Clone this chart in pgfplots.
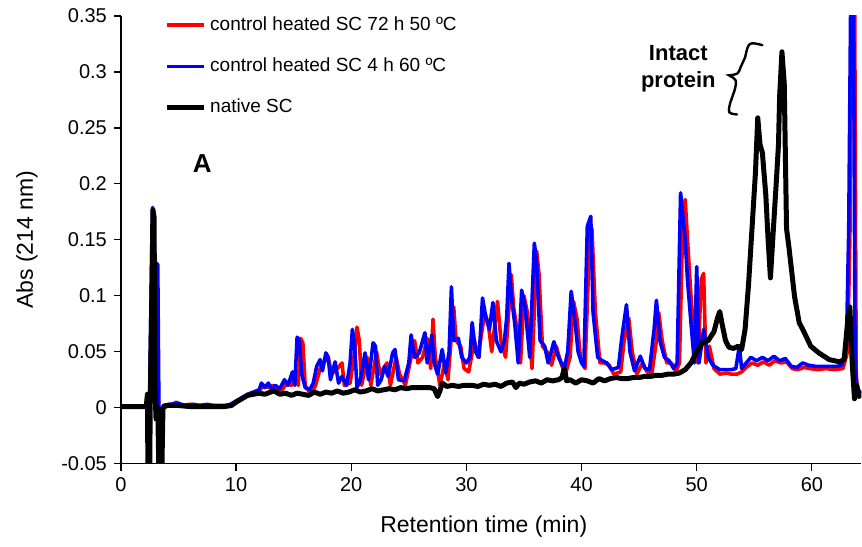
\documentclass[border=0pt]{standalone}
\usepackage{fontspec}
\setmainfont{Liberation Sans}
\usepackage{pgfplots}
\pgfplotsset{compat=1.18}
\begin{document}
\begin{tikzpicture}
\begin{axis}[
    scale only axis,
    width=370.5pt, height=224pt,
    xmin=0, xmax=64.3,
    ymin=-0.05, ymax=0.35,
    axis x line*=bottom, axis y line*=left,
    axis line style={line width=0.6pt},
    xtick={0,10,20,30,40,50,60},
    ytick={-0.05,0,0.05,0.1,0.15,0.2,0.25,0.3,0.35},
    yticklabels={-0.05,0,0.05,0.1,0.15,0.2,0.25,0.3,0.35},
    tick align=outside, major tick length=3.5pt,
    tick style={black, line width=0.6pt},
    /pgf/number format/assume math mode=true,
    tick label style={font=\fontsize{10}{12}\selectfont},
    xlabel={Retention time (min)},
    ylabel={Abs (214 nm)},
    label style={font=\fontsize{11.5}{13}\selectfont},
    xlabel style={at={(axis description cs:0.49,-0.141)}, anchor=center},
    ylabel style={at={(axis description cs:-0.127,0.5)}, anchor=center},
    legend style={at={(axis description cs:0.058,1.008)}, anchor=north west,
        draw=none, fill=none, font=\fontsize{9.5}{11}\selectfont,
        row sep=8.2pt, inner sep=0pt},
    legend cell align=left,
    legend image code/.code={\draw[#1] (0pt,0pt) -- (18.5pt,0pt);},
]
% control heated SC 72 h 50 C
\addplot[red, line width=1.8pt, line join=round] coordinates {
(0,0.001)(2.2,0.001)(2.3,0.008)(2.4,-0.06)(2.5,0.01)(2.7,0.12)(2.8,0.175)(2.9,0.12)(3.2,0.05)(3.35,-0.06)(3.5,-0.01)(3.7,0.002)
(4.5,0.003)(4.8,0.005)(5.2,0.002)(6,0.003)(7,0.002)(8,0.002)(9,0.001)(9.6,0.002)(10,0.005)(10.5,0.008)(11,0.011)(11.5,0.013)
(12,0.015)(12.4,0.02)(12.8,0.018)(13.2,0.02)(13.6,0.015)(14,0.016)(14.4,0.022)(14.8,0.02)(15.1,0.03)(15.4,0.02)(15.6,0.062)
(15.8,0.058)(16,0.02)(16.5,0.012)(16.9,0.02)(17.3,0.035)(17.6,0.04)(18,0.045)(18.3,0.03)(18.8,0.035)(19.2,0.04)(19.4,0.02)
(19.9,0.022)(20.3,0.05)(20.5,0.072)(20.7,0.06)(20.9,0.02)(21.4,0.045)(21.7,0.02)(22.2,0.05)(22.5,0.03)(23.1,0.04)(23.4,0.02)
(23.9,0.045)(24.2,0.03)(24.7,0.02)(25.2,0.045)(25.5,0.06)(25.8,0.04)(26.2,0.045)(26.6,0.062)(26.9,0.035)(27.1,0.079)(27.3,0.045)
(27.7,0.02)(28.1,0.04)(28.4,0.025)(28.9,0.09)(29.1,0.06)(29.5,0.055)(29.8,0.035)(30.2,0.032)(30.7,0.06)(31,0.045)(31.6,0.085)
(31.9,0.075)(32.2,0.05)(32.7,0.095)(33,0.06)(33.4,0.045)(33.9,0.119)(34.1,0.09)(34.4,0.07)(34.7,0.04)(35.0,0.1)(35.3,0.085)
(35.7,0.035)(36.1,0.14)(36.3,0.12)(36.6,0.055)(37,0.05)(37.4,0.038)(37.8,0.055)(38.2,0.04)(38.6,0.03)(39,0.045)(39.3,0.095)
(39.6,0.08)(39.9,0.045)(40.3,0.035)(40.7,0.15)(40.9,0.16)(41.2,0.085)(41.6,0.04)(42,0.04)(42.4,0.038)(42.8,0.03)(43.4,0.032)
(43.7,0.06)(44.1,0.08)(44.4,0.05)(44.8,0.03)(45.3,0.04)(45.7,0.032)(46.1,0.03)(46.5,0.06)(46.7,0.085)(47,0.06)(47.4,0.04)
(47.8,0.04)(48.2,0.032)(48.5,0.04)(48.8,0.17)(49.0,0.186)(49.2,0.15)(49.5,0.1)(49.8,0.06)(50.1,0.04)(50.4,0.115)(50.6,0.12)
(50.8,0.04)(51.1,0.055)(51.5,0.035)(52,0.03)(52.6,0.031)(53,0.03)(53.5,0.03)(53.9,0.032)(54.3,0.036)(54.8,0.04)(55.3,0.038)
(55.8,0.041)(56.3,0.038)(56.8,0.042)(57.3,0.04)(57.8,0.041)(58.3,0.035)(58.8,0.034)(59.3,0.036)(59.8,0.035)(60.5,0.034)
(61.2,0.035)(62,0.034)(62.7,0.035)(63.1,0.05)(63.3,0.15)(63.5,0.4)(63.7,0.4)(63.85,0.03)(64,0.012)(64.3,0.015)
};
\addlegendentry{control heated SC 72 h 50 ºC}
% control heated SC 4 h 60 C
\addplot[blue, line width=1.8pt, line join=round] coordinates {
(0,0.001)(2.2,0.001)(2.3,0.008)(2.4,-0.06)(2.5,0.01)(2.65,0.12)(2.75,0.179)(2.85,0.17)(2.95,0.13)(3.2,0.128)(3.3,0.0)(3.4,-0.06)
(3.55,-0.01)(3.7,0.002)(4.2,0.003)(5,0.004)(5.5,0.002)(6.3,0.003)(6.8,0.002)(7.5,0.003)(8,0.002)(9,0.002)(9.5,0.003)
(10,0.006)(10.5,0.009)(11,0.012)(11.5,0.014)(12,0.016)(12.2,0.022)(12.5,0.018)(12.8,0.022)(13.1,0.016)(13.4,0.02)(13.8,0.017)
(14.2,0.025)(14.5,0.02)(14.9,0.032)(15.1,0.02)(15.3,0.063)(15.5,0.06)(15.7,0.03)(16,0.018)(16.4,0.016)(16.7,0.022)(17,0.037)
(17.3,0.043)(17.5,0.033)(17.8,0.049)(18,0.045)(18.2,0.025)(18.6,0.041)(18.9,0.022)(19.2,0.028)(19.6,0.02)(19.9,0.04)(20.1,0.07)
(20.3,0.055)(20.5,0.018)(20.8,0.025)(21.2,0.049)(21.5,0.025)(21.9,0.058)(22.1,0.055)(22.3,0.02)(22.6,0.025)(22.9,0.037)
(23.2,0.028)(23.6,0.049)(23.8,0.052)(24.1,0.025)(24.6,0.024)(25,0.04)(25.2,0.065)(25.5,0.045)(25.9,0.049)(26.4,0.067)
(26.6,0.04)(27.0,0.065)(27.2,0.04)(27.5,0.03)(27.9,0.052)(28.2,0.031)(28.5,0.05)(28.7,0.108)(28.9,0.06)(29.3,0.062)(29.6,0.045)
(30,0.04)(30.3,0.045)(30.5,0.076)(30.8,0.05)(31.1,0.045)(31.4,0.098)(31.7,0.08)(32,0.07)(32.3,0.094)(32.6,0.06)(33,0.05)
(33.3,0.06)(33.5,0.08)(33.7,0.129)(33.9,0.1)(34.2,0.075)(34.5,0.04)(34.8,0.105)(35.1,0.09)(35.5,0.045)(35.9,0.147)(36.1,0.13)
(36.4,0.06)(36.8,0.055)(37.1,0.04)(37.6,0.059)(38,0.045)(38.5,0.035)(38.8,0.05)(39.1,0.104)(39.4,0.08)(39.7,0.05)(40,0.04)
(40.2,0.037)(40.5,0.162)(40.8,0.171)(41,0.085)(41.4,0.045)(41.8,0.042)(42.2,0.04)(42.6,0.034)(43.2,0.036)(43.5,0.063)
(43.9,0.092)(44.2,0.05)(44.6,0.033)(45.1,0.046)(45.5,0.035)(45.9,0.034)(46.3,0.07)(46.5,0.096)(46.8,0.06)(47.2,0.045)
(47.6,0.042)(48.0,0.035)(48.3,0.04)(48.6,0.192)(48.8,0.171)(49.0,0.15)(49.2,0.114)(49.5,0.076)(49.8,0.04)(50.0,0.126)
(50.2,0.04)(50.6,0.07)(51,0.045)(51.4,0.038)(52,0.034)(52.5,0.034)(53,0.034)(53.4,0.035)(53.7,0.055)(53.9,0.035)(54.3,0.04)
(54.7,0.045)(55.2,0.042)(55.7,0.045)(56.2,0.042)(56.7,0.046)(57.2,0.042)(57.7,0.044)(58.2,0.037)(58.7,0.036)(59.2,0.04)
(59.7,0.038)(60.3,0.037)(61,0.037)(61.6,0.037)(62.2,0.037)(62.6,0.038)(63.0,0.055)(63.2,0.159)(63.4,0.4)(63.6,0.4)
(63.75,0.05)(63.9,0.012)(64.3,0.015)
};
\addlegendentry{control heated SC 4 h 60 ºC}
% native SC
\addplot[black, line width=2.5pt, line join=round] coordinates {
(0,0.001)(2.2,0.001)(2.3,0.012)(2.35,-0.06)(2.5,-0.06)(2.55,0.01)(2.7,0.11)(2.78,0.177)(2.88,0.17)(2.95,0.02)(3.05,-0.01)
(3.2,0.0)(3.3,-0.06)(3.55,-0.06)(3.65,0.0)(4,0.002)(5,0.002)(6,0.001)(7,0.001)(8,0.001)(9,0.001)(9.6,0.002)(10,0.005)
(10.5,0.008)(11,0.011)(11.5,0.012)(12,0.013)(12.5,0.012)(13,0.014)(13.3,0.015)(13.8,0.012)(14.3,0.013)(14.8,0.011)(15.3,0.013)
(15.8,0.012)(16.3,0.011)(16.8,0.014)(17.3,0.012)(17.8,0.014)(18.3,0.013)(18.8,0.015)(19.3,0.013)(19.8,0.014)(20.3,0.016)
(20.8,0.014)(21.3,0.015)(21.8,0.017)(22.3,0.015)(22.8,0.016)(23.3,0.017)(23.8,0.016)(24.3,0.018)(24.8,0.017)(25.3,0.018)
(25.8,0.018)(26.3,0.018)(26.8,0.018)(27.2,0.017)(27.5,0.01)(27.7,0.015)(27.9,0.022)(28.3,0.019)(28.8,0.02)(29.3,0.019)
(29.8,0.02)(30.5,0.02)(31,0.019)(31.5,0.021)(32,0.02)(32.5,0.021)(33,0.019)(33.5,0.022)(34,0.023)(34.3,0.018)(34.6,0.022)
(35,0.021)(35.5,0.023)(36,0.024)(36.5,0.022)(37,0.025)(37.5,0.024)(38,0.025)(38.3,0.027)(38.5,0.035)(38.7,0.024)(39,0.025)
(39.5,0.022)(40,0.025)(40.5,0.024)(41,0.022)(41.5,0.026)(42,0.024)(42.5,0.026)(43,0.027)(43.5,0.026)(44,0.026)(44.5,0.027)
(45,0.027)(45.5,0.028)(46,0.028)(46.5,0.029)(47,0.029)(47.5,0.03)(48,0.03)(48.5,0.031)(49,0.034)(49.5,0.04)(50,0.05)
(50.5,0.058)(51,0.06)(51.5,0.068)(51.8,0.08)(52,0.086)(52.2,0.075)(52.5,0.06)(52.8,0.054)(53.2,0.053)(53.6,0.055)(53.9,0.052)
(54.2,0.07)(54.5,0.11)(54.8,0.16)(55.1,0.21)(55.3,0.259)(55.5,0.235)(55.7,0.228)(56.0,0.19)(56.2,0.15)(56.4,0.116)(56.6,0.15)
(56.9,0.2)(57.1,0.235)(57.2,0.278)(57.4,0.318)(57.6,0.29)(57.8,0.16)(58.0,0.144)(58.5,0.099)(58.9,0.076)(59.3,0.068)
(59.9,0.055)(60.6,0.049)(61.5,0.043)(62.4,0.041)(62.8,0.043)(63.1,0.076)(63.3,0.09)(63.5,0.04)(63.7,0.008)(63.9,0.02)
(64.1,0.01)(64.3,0.012)
};
\addlegendentry{native SC}
\node[font=\fontsize{13}{13}\selectfont\bfseries] at (axis cs:7.07,0.218) {A};
\node[font=\fontsize{11}{13.5}\selectfont\bfseries, align=center] at (axis cs:48.4,0.303) {Intact\\protein};
\draw[line width=1.2pt, line cap=round] (axis cs:55.7,0.324) .. controls (axis cs:54.5,0.327) .. (axis cs:54.2,0.313)
  -- (axis cs:53.8,0.304) .. controls (axis cs:53.6,0.298) .. (axis cs:52.8,0.297)
  .. controls (axis cs:53.5,0.293) .. (axis cs:53.3,0.284) -- (axis cs:52.9,0.272)
  .. controls (axis cs:52.7,0.263) .. (axis cs:53.5,0.262);
\end{axis}
\path ([xshift=-60.5pt,yshift=-41.5pt]current axis.south west) rectangle ([yshift=8pt]current axis.north east);
\end{tikzpicture}
\end{document}
